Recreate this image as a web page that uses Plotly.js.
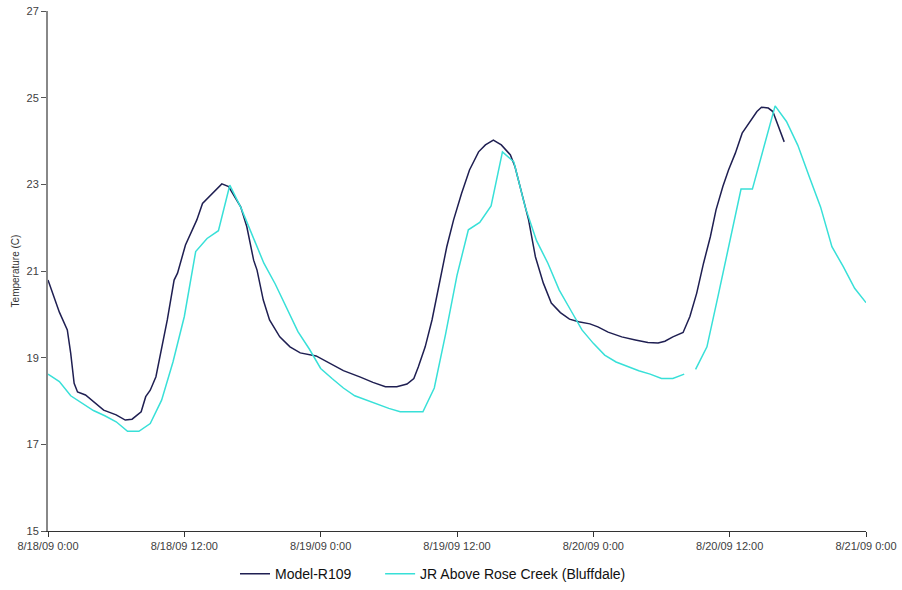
<!DOCTYPE html>
<html>
<head>
<meta charset="utf-8">
<script src="https://cdn.plot.ly/plotly-3.0.1.min.js"></script>
<style>
  html, body { margin: 0; padding: 0; background: #ffffff; }
  #chart { width: 902px; height: 590px; }
</style>
</head>
<body>
<div id="chart"></div>
<script>
// Start of the record: 8/18/09 0:00
const START = Date.UTC(2009, 7, 18, 0, 0);

// Model-R109: hours since start, temperature (C)
const modelHours = [
  0, 0.5, 1.0, 1.7, 2.0, 2.3, 2.6, 3.3, 4.0, 4.9, 6.0, 6.8, 7.4, 8.2, 8.6, 9.0, 9.5, 9.9,
  10.5, 11.1, 11.4, 12.1, 12.7, 13.1, 13.6, 14.3, 15.3, 15.9, 16.96, 17.5, 17.8, 18.1, 18.4,
  18.95, 19.5, 20.4, 21.3, 22.2, 23.6, 24.8, 26.0, 27.5, 28.6, 29.7, 30.7, 31.6, 32.2, 32.6,
  33.2, 33.8, 34.4, 35.1, 35.7, 36.4, 37.1, 37.9, 38.5, 39.2, 39.9, 40.7, 41.1, 41.7, 42.3,
  42.9, 43.6, 44.3, 45.1, 45.9, 46.7, 47.7, 48.4, 49.3, 50.5, 51.7, 52.8, 53.7, 54.3, 55.0,
  55.9, 56.5, 57.1, 57.7, 58.3, 58.8, 59.4, 59.9, 60.5, 61.1, 61.8, 62.4, 62.8, 63.4, 63.8,
  64.3, 64.8
];
const modelTemp = [
  20.79, 20.40, 20.05, 19.64, 19.10, 18.41, 18.21, 18.14, 17.98, 17.79, 17.68, 17.56, 17.58, 17.75, 18.10, 18.25, 18.56, 19.10,
  19.87, 20.79, 20.95, 21.60, 21.95, 22.18, 22.56, 22.75, 23.01, 22.95, 22.48, 22.02, 21.62, 21.25, 21.02,
  20.33, 19.87, 19.48, 19.25, 19.11, 19.04, 18.87, 18.70, 18.55, 18.43, 18.33, 18.33, 18.39, 18.52, 18.79,
  19.25, 19.87, 20.64, 21.56, 22.18, 22.79, 23.33, 23.75, 23.91, 24.02, 23.91, 23.68, 23.41, 22.79, 22.18,
  21.33, 20.72, 20.26, 20.04, 19.89, 19.83, 19.78, 19.71, 19.59, 19.48, 19.41, 19.35, 19.34, 19.38, 19.48,
  19.58, 19.95, 20.49, 21.18, 21.79, 22.41, 22.95, 23.33, 23.72, 24.18, 24.45, 24.68, 24.78, 24.76, 24.68,
  24.33, 23.98
];

// JR Above Rose Creek (Bluffdale): hourly gauge readings (null = missing reading)
const gaugeHours = [
  0, 1, 2, 3, 4, 5, 6, 7, 8, 9, 10, 11, 12, 13, 14, 15, 16, 17, 18, 19, 20, 21, 22, 23,
  24, 25, 26, 27, 28, 29, 30, 31, 32, 33, 34, 35, 36, 37, 38, 39, 40, 41, 42, 43, 44, 45, 46, 47,
  48, 49, 50, 51, 52, 53, 54, 55, 56, 56.5, 57, 58, 59, 60, 61, 62, 63, 64, 65, 66, 67, 68, 69, 70, 71, 72
];
const gaugeTemp = [
  18.62, 18.45, 18.12, 17.95, 17.78, 17.66, 17.52, 17.30, 17.30, 17.48, 18.02, 18.90, 19.95, 21.45, 21.75, 21.93, 22.98, 22.45, 21.80, 21.18, 20.70, 20.14, 19.60, 19.20,
  18.75, 18.52, 18.30, 18.12, 18.02, 17.92, 17.83, 17.75, 17.75, 17.75, 18.30, 19.55, 20.90, 21.95, 22.12, 22.50, 23.75, 23.52, 22.48, 21.70, 21.18, 20.56, 20.10, 19.64,
  19.33, 19.06, 18.90, 18.80, 18.70, 18.62, 18.52, 18.52, 18.62, null, 18.73, 19.25, 20.45, 21.67, 22.89, 22.89, 23.85, 24.81, 24.45, 23.90, 23.18, 22.48, 21.56, 21.10, 20.60, 20.27
];

// Axis ticks
const yTicks = [15, 17, 19, 21, 23, 25, 27];
const xRange = ['2009-08-18 00:00', '2009-08-21 00:00'];

function toDate(h) {
  const d = new Date(START + h * 3600 * 1000);
  const p = n => String(n).padStart(2, '0');
  return d.getUTCFullYear() + '-' + p(d.getUTCMonth() + 1) + '-' + p(d.getUTCDate()) + ' ' +
         p(d.getUTCHours()) + ':' + p(d.getUTCMinutes()) + ':' + p(d.getUTCSeconds());
}

const FONT = 'Liberation Sans, Arial, sans-serif';

const traces = [
  {
    name: 'Model-R109',
    x: modelHours.map(toDate),
    y: modelTemp,
    mode: 'lines',
    line: { color: '#1f1f52', width: 1.5 },
    legend: 'legend',
    hoverinfo: 'x+y'
  },
  {
    name: 'JR Above Rose Creek (Bluffdale)',
    x: gaugeHours.map(toDate),
    y: gaugeTemp,
    mode: 'lines',
    connectgaps: false,
    line: { color: '#38e0d8', width: 1.5 },
    legend: 'legend2',
    hoverinfo: 'x+y'
  }
];

// Each series gets its own legend box so the two entries sit apart
const legendBase = {
  orientation: 'h',
  y: -0.083, yanchor: 'middle',
  xanchor: 'left',
  font: { family: FONT, size: 14, color: '#111111' },
  itemwidth: 30,
  bgcolor: 'rgba(0,0,0,0)'
};

const layout = {
  width: 902,
  height: 590,
  margin: { l: 48, r: 36, t: 11, b: 59, autoexpand: false },
  paper_bgcolor: '#ffffff',
  plot_bgcolor: '#ffffff',
  font: { family: FONT, size: 11, color: '#404040' },
  showlegend: true,
  legend: Object.assign({}, legendBase, { x: 0.2286 }),
  legend2: Object.assign({}, legendBase, { x: 0.406 }),
  xaxis: {
    type: 'date',
    range: xRange,
    tickmode: 'linear',
    tick0: xRange[0],
    dtick: 12 * 3600 * 1000,
    tickformat: '%-m/%-d/%y %-H:%M',
    ticks: 'outside',
    ticklen: 5,
    tickcolor: '#333333',
    showline: true,
    linecolor: '#333333',
    linewidth: 1,
    showgrid: false,
    zeroline: false,
    automargin: false,
    tickfont: { family: FONT, size: 11, color: '#404040' }
  },
  yaxis: {
    range: [15, 27],
    tickmode: 'array',
    tickvals: yTicks,
    ticktext: yTicks.map(String),
    ticks: 'outside',
    ticklen: 5,
    tickcolor: '#555555',
    showline: true,
    linecolor: '#888888',
    linewidth: 2,
    showgrid: false,
    zeroline: false,
    automargin: false,
    tickfont: { family: FONT, size: 11, color: '#404040' },
    title: { text: 'Temperature (C)', font: { family: FONT, size: 10, color: '#333333' }, standoff: 5 }
  }
};

Plotly.newPlot('chart', traces, layout, { staticPlot: true, displayModeBar: false });
</script>
</body>
</html>
